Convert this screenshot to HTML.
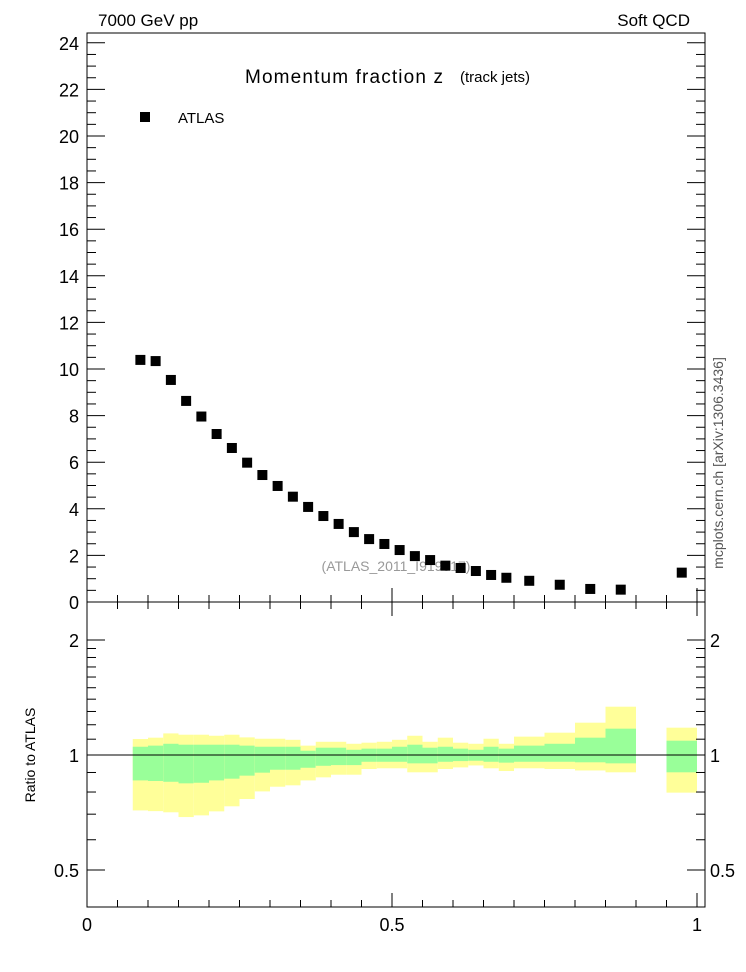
<!DOCTYPE html>
<html><head><meta charset="utf-8"><style>
html,body{margin:0;padding:0;background:#fff;}
svg{display:block;font-family:"Liberation Sans",Arial,sans-serif;}
</style></head><body>
<svg id="chart" width="746" height="972" viewBox="0 0 746 972" xmlns="http://www.w3.org/2000/svg">
<text x="98" y="26" font-size="17">7000 GeV pp</text>
<text x="690" y="26" font-size="17" text-anchor="end">Soft QCD</text>
<text x="245" y="83" font-size="19" textLength="198">Momentum fraction z</text>
<text x="460" y="82" font-size="15">(track jets)</text>
<rect x="140" y="112" width="10" height="10" fill="#000"/>
<text x="178" y="123" font-size="15">ATLAS</text>
<text x="396" y="571" font-size="14" fill="#999" text-anchor="middle">(ATLAS_2011_I919017)</text>
<text transform="translate(723,463) rotate(-90)" font-size="14" fill="#555" text-anchor="middle">mcplots.cern.ch [arXiv:1306.3436]</text>
<text transform="translate(35,755) rotate(-90)" font-size="14" text-anchor="middle">Ratio to ATLAS</text>
<g id="ratioBands"></g>
<g id="points"></g>
<g id="axes"></g>
</svg>
<script>
const binLo = [0.075,0.1,0.125,0.15,0.175,0.2,0.225,0.25,0.275,0.3,0.325,0.35,0.375,0.4,0.425,0.45,0.475,0.5,0.525,0.55,0.575,0.6,0.625,0.65,0.675,0.7,0.75,0.8,0.85,0.95];
const binHi = [0.1,0.125,0.15,0.175,0.2,0.225,0.25,0.275,0.3,0.325,0.35,0.375,0.4,0.425,0.45,0.475,0.5,0.525,0.55,0.575,0.6,0.625,0.65,0.675,0.7,0.75,0.8,0.85,0.9,1.0];
const atlasValues = [10.39,10.34,9.53,8.63,7.96,7.21,6.61,5.98,5.45,4.98,4.52,4.08,3.69,3.35,3.0,2.70,2.49,2.23,1.97,1.80,1.56,1.46,1.33,1.16,1.04,0.91,0.74,0.56,0.53,1.26];
const yellowHi = [1.101,1.110,1.139,1.130,1.130,1.123,1.130,1.112,1.103,1.103,1.096,1.058,1.083,1.083,1.070,1.077,1.083,1.096,1.123,1.083,1.110,1.077,1.070,1.103,1.070,1.117,1.144,1.215,1.338,1.179];
const greenHi = [1.051,1.058,1.070,1.064,1.064,1.064,1.064,1.058,1.051,1.051,1.051,1.026,1.045,1.045,1.032,1.039,1.039,1.051,1.064,1.045,1.051,1.039,1.032,1.051,1.039,1.058,1.070,1.110,1.172,1.090];
const greenLo = [0.858,0.855,0.851,0.843,0.846,0.858,0.867,0.883,0.899,0.915,0.915,0.926,0.937,0.941,0.941,0.960,0.960,0.960,0.951,0.951,0.960,0.964,0.966,0.960,0.955,0.960,0.960,0.957,0.951,0.901];
const yellowLo = [0.716,0.713,0.708,0.688,0.695,0.712,0.734,0.767,0.803,0.826,0.833,0.858,0.874,0.888,0.888,0.919,0.923,0.923,0.901,0.901,0.919,0.928,0.939,0.923,0.908,0.923,0.919,0.911,0.901,0.797];
const mainTicks = [0,2,4,6,8,10,12,14,16,18,20,22,24];
const ratioTickLabels = [0.5,1,2];
const xTickLabels = [0,0.5,1];

const NS = "http://www.w3.org/2000/svg";
const L = 87, R = 705, T = 33, MB = 602, RB = 907;
const X = v => L + v * 610;
const Y = v => MB - v * 23.3;
const RY = v => 755 - 115 * Math.log2(v);
function mk(tag, attrs, parent) {
  const e = document.createElementNS(NS, tag);
  for (const k in attrs) e.setAttribute(k, attrs[k]);
  parent.appendChild(e);
  return e;
}
const bands = document.getElementById('ratioBands');
const pts = document.getElementById('points');
const axes = document.getElementById('axes');

for (let i = 0; i < binLo.length; i++) {
  const x0 = X(binLo[i]), w = X(binHi[i]) - x0;
  const y1 = mk('rect', {x:x0, y:RY(yellowHi[i]), width:w, height:RY(yellowLo[i]) - RY(yellowHi[i]), fill:'#ffff99'}, bands);
  
  
  const g1 = mk('rect', {x:x0, y:RY(greenHi[i]), width:w, height:RY(greenLo[i]) - RY(greenHi[i]), fill:'#99ff99'}, bands);
  
  
  const xc = X((binLo[i] + binHi[i]) / 2);
  const p = mk('rect', {x:xc - 5, y:Y(atlasValues[i]) - 5, width:10, height:10, fill:'#000'}, pts);
  
  
}
const one = mk('line', {x1:L, x2:R, y1:RY(1), y2:RY(1), stroke:'#000', 'stroke-width':1}, axes);



const f1 = mk('rect', {x:L, y:T, width:R - L, height:MB - T, fill:'none', stroke:'#000', 'stroke-width':1}, axes);


const f2 = mk('rect', {x:L, y:MB, width:R - L, height:RB - MB, fill:'none', stroke:'#000', 'stroke-width':1}, axes);



function tick(x1, y1, x2, y2) {
  const t = mk('line', {x1, y1, x2, y2, stroke:'#000', 'stroke-width':1}, axes);
  
  
}
for (let v = 0; v <= 24.4; v += 0.5) {
  const major = Math.abs(v - Math.round(v / 2) * 2) < 1e-6;
  const len = major ? 18 : 9, y = Y(v);
  tick(L, y, L + len, y); tick(R, y, R - len, y);
}
mainTicks.forEach(v => {
  const t = mk('text', {x:L - 8, y:Y(v) + 7, 'font-size':18, 'text-anchor':'end'}, axes);
  t.textContent = v;
  
  
});
const rMinor = [0.5,0.6,0.7,0.8,0.9,1,1.1,1.2,1.3,1.4,1.5,1.6,1.7,1.8,1.9,2];
rMinor.forEach(v => {
  const major = ratioTickLabels.includes(v);
  const len = major ? 18 : 9, y = RY(v);
  tick(L, y, L + len, y); tick(R, y, R - len, y);
});
ratioTickLabels.forEach(v => {
  const t = mk('text', {x:L - 8, y:RY(v) + 7, 'font-size':18, 'text-anchor':'end'}, axes);
  t.textContent = v;
  
  
  const t2 = mk('text', {x:R + 5, y:RY(v) + 7, 'font-size':18}, axes);
  t2.textContent = v;
  
  
});
for (let i = 0; i <= 20; i++) {
  const v = i * 0.05, x = X(v), major = i % 10 === 0, len = major ? 14 : 7;
  tick(x, MB, x, MB - len); tick(x, MB, x, MB + len);
  tick(x, RB, x, RB - len);
}
xTickLabels.forEach(v => {
  const t = mk('text', {x:X(v), y:RB + 24, 'font-size':18, 'text-anchor':'middle'}, axes);
  t.textContent = v;
  
  
});
</script>
</body></html>
